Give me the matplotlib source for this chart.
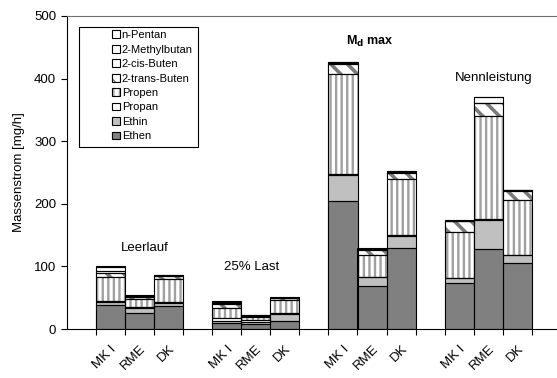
import matplotlib
matplotlib.use("Agg")
import matplotlib.pyplot as plt
from matplotlib.patches import Patch, Rectangle
from matplotlib.transforms import ScaledTranslation
import numpy as np

plt.rcParams['font.family'] = ['Liberation Sans', 'DejaVu Sans']

# Betriebspunkte und Kraftstoffe
modes = ['Leerlauf', '25% Last', 'M$_\\mathbf{d}$ max', 'Nennleistung']
fuels = ['MK I', 'RME', 'DK']

# Komponenten (von unten nach oben gestapelt), Werte in mg/h
# Reihenfolge je Liste: Leerlauf (MK I, RME, DK), 25% Last, Md max, Nennleistung
ethen     = [38, 25, 37,   9, 7.5, 13,   205, 69, 130,   73, 128, 106]
ethin     = [5.5, 9, 5,    4, 4, 11,     41, 13.5, 19,   8, 46, 12]
propan    = [1, 1.5, 1,    5, 3, 1,      1, 1, 1,        1, 1, 1]
propen    = [39, 12, 37,   15, 5, 22,    161, 34.5, 90,  73.5, 165, 87]
transbut  = [6.5, 3.5, 4,  7, 1.5, 2,    16, 8, 10,      16.5, 20.5, 15]
cisbut    = [2.5, 1, 1,    1.5, 0.5, 0.5, 1, 1, 1,       0.5, 1, 0.3]
methylbut = [6, 1.5, 1,    1.5, 0.5, 0.5, 1, 1, 1,       0.5, 8.5, 0.3]
pentan    = [1.5, 1, 1,    1.5, 0.8, 1,  1, 1, 1,        1, 1, 0.4]

names = ['Ethen', 'Ethin', 'Propan', 'Propen', '2-trans-Buten',
         '2-cis-Buten', '2-Methylbutan', 'n-Pentan']
series = [ethen, ethin, propan, propen, transbut, cisbut, methylbut, pentan]
# (Fuellfarbe, Schraffurfarbe, Schraffur, Linienstaerke Schraffur)
styles = [('#808080', '#808080', None, 1.0),
          ('#c0c0c0', '#c0c0c0', None, 1.0),
          ('white', 'white', None, 1.0),
          ('white', '#a0a0a0', '|||', 1.7),
          ('white', '#7a7a7a', '\\\\', 2.6),
          ('white', 'white', None, 1.0),
          ('white', 'white', None, 1.0),
          ('white', 'white', None, 1.0)]

# Beschriftung der Gruppen: (x, y) in Datenkoordinaten
mode_pos = [(2.2, 129), (5.86, 99.5), (9.91, 460), (14.19, 400.5)]

# Kategorien: je Gruppe ein leerer Platz vor den drei Balken
xpos = []
for g in range(4):
    xpos += [g * 4 + 1, g * 4 + 2, g * 4 + 3]
xpos = np.array(xpos)

fig = plt.figure(figsize=(5.57, 3.78), dpi=100)
ax = fig.add_axes([66.5 / 557, 49 / 378, 494.7 / 557, 313 / 378])

bottom = np.zeros(len(xpos))
handles = []
for vals, name, (fc, hc, hatch, hlw) in zip(series, names, styles):
    vals = np.array(vals, dtype=float)
    with plt.rc_context({'hatch.color': hc, 'hatch.linewidth': hlw}):
        ax.bar(xpos, vals, width=1.0, bottom=bottom, color=fc,
               edgecolor=hc, linewidth=0.1, hatch=hatch, zorder=2)
        fill_handle = Patch(facecolor=fc, edgecolor=hc, hatch=hatch, linewidth=0.1)
    ax.bar(xpos, vals, width=1.0, bottom=bottom, fill=False,
           edgecolor='black', linewidth=0.8, zorder=3)
    bottom += vals
    handles.append((fill_handle,
                    Patch(fill=False, edgecolor='black', linewidth=0.8)))

ax.set_xlim(-0.5, 16.5)
ax.set_ylim(0, 500)
ax.set_yticks(np.arange(0, 501, 100))
ax.set_xticks(np.arange(0, 17) + 0.5, minor=False)
ax.set_xticklabels([])
ax.set_xticks(xpos, minor=True)
ax.set_xticklabels(fuels * 4, minor=True, rotation=45, ha='right', va='top',
                   rotation_mode='anchor', fontsize=9.5)
shift = ScaledTranslation(-9 / 100, -1 / 100, fig.dpi_scale_trans)
for lbl in ax.get_xticklabels(minor=True):
    lbl.set_transform(lbl.get_transform() + shift)
ax.tick_params(axis='x', which='minor', length=0, pad=10)
ax.tick_params(axis='x', which='major', direction='out', length=4, width=0.8)
ax.tick_params(axis='y', direction='out', length=4, width=0.8, labelsize=9.5)
ax.spines['right'].set_visible(False)
for s in ['left', 'bottom', 'top']:
    ax.spines[s].set_linewidth(0.8)
ax.spines['top'].set_color('#707070')
ax.set_ylabel('Massenstrom [mg/h]', fontsize=9.5, labelpad=6)

for label, (x, y) in zip(modes, mode_pos):
    if 'max' in label:
        ax.text(x, y, label, ha='center', va='center', fontsize=9, fontweight='bold')
    else:
        ax.text(x, y, label, ha='center', va='center', fontsize=9.5)

# Legendenrahmen und Eintraege (oberste Komponente zuerst)
ax.add_patch(Rectangle((12.8 / 494.7, (329 - 147) / 313), 119 / 494.7, 120 / 313,
                       transform=ax.transAxes, fill=False, edgecolor='black',
                       linewidth=0.8, zorder=4))
leg = ax.legend(handles[::-1], names[::-1], loc='upper left',
                bbox_to_anchor=(43 / 494.7, (329 - 28) / 313),
                frameon=False, fontsize=8, handlelength=0.7, handleheight=0.7,
                handletextpad=0.2, labelspacing=0.4, borderpad=0.2,
                borderaxespad=0)

fig.savefig('out.png', dpi=100)
